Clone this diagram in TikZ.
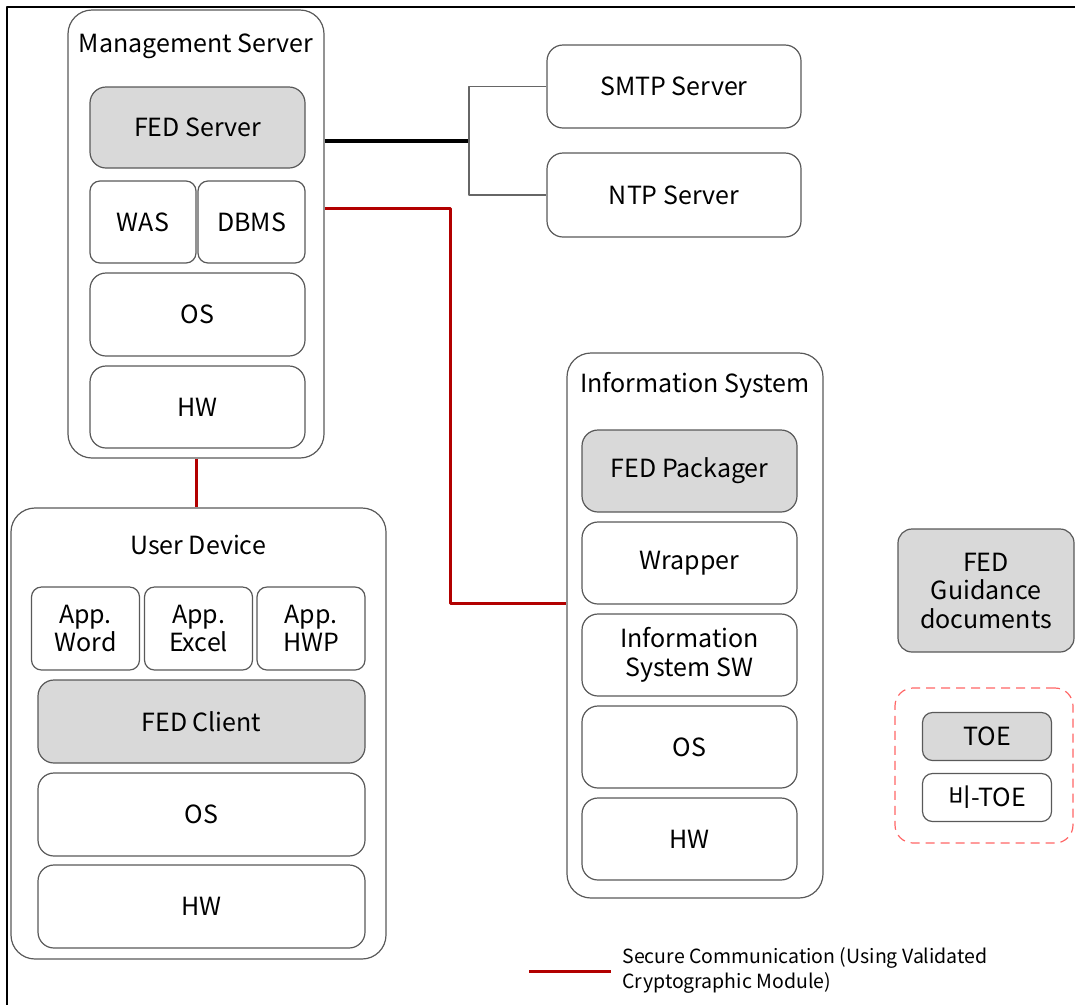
\documentclass[tikz,border=0pt]{standalone}
\usepackage{fontspec}
\setmainfont{Noto Sans CJK KR}
\begin{document}
\begin{tikzpicture}[x=1pt,y=-1pt,line join=round,font=\fontsize{25}{28.5}\selectfont,
  box/.style={draw=black!65,line width=1.2pt,rounded corners=16pt,fill=white,inner sep=0pt,align=center},
  toe/.style={box,fill=black!15},
  outer/.style={draw=black!65,line width=1.2pt,rounded corners=24pt,inner sep=0pt},
  secure/.style={draw=red!70!black,line width=3pt},
  wire/.style={draw=black!60,line width=1.3pt}]
\useasboundingbox (0,0) rectangle (1075,1005);
\draw[line width=1.3pt] (1075,7)--(7,7)--(7,1005);
% management server
\node[outer,minimum width=256pt,minimum height=448pt] (ms) at (196,234) {};
\node (mstitle) at (196,46) {Management Server};
\node[toe,minimum width=215pt,minimum height=81pt] (fedsrv) at (197.5,127.5) {FED Server};
\node[box,rounded corners=10pt,minimum width=106pt,minimum height=82pt] (was) at (143,222) {WAS};
\node[box,rounded corners=10pt,minimum width=107pt,minimum height=82pt] (dbms) at (251.5,222) {DBMS};
\node[box,minimum width=215pt,minimum height=83pt] (msos) at (197.5,314.5) {OS};
\node[box,minimum width=215pt,minimum height=82pt] (mshw) at (197.5,407) {HW};
% external servers
\node[box,minimum width=254pt,minimum height=83pt] (smtp) at (674,86.5) {SMTP Server};
\node[box,minimum width=254pt,minimum height=84pt] (ntp) at (674,195) {NTP Server};
% information system
\node[outer,minimum width=256pt,minimum height=545pt] (is) at (695,625.5) {};
\node (istitle) at (695,385) {Information System};
\node[toe,minimum width=215pt,minimum height=82pt] (pkg) at (689.5,471) {FED Packager};
\foreach \y/\nm/\txt in {563/wrap/Wrapper,655/isw/Information\\System SW,747/isos/OS,839/ishw/HW}
  \node[box,minimum width=215pt,minimum height=82pt] (\nm) at (689.5,\y) {\txt};
% user device
\node[outer,minimum width=375pt,minimum height=451pt] (ud) at (198.5,733.5) {};
\node (udtitle) at (198,545) {User Device};
\foreach \x/\nm/\txt in {85.5/word/Word,198.5/excel/Excel,311/hwp/HWP}
  \node[box,rounded corners=10pt,minimum width=108pt,minimum height=83pt] (\nm) at (\x,628.5) {App.\\\txt};
\node[toe,minimum width=327pt,minimum height=83pt] (fedcl) at (201.5,721.5) {FED Client};
\node[box,minimum width=327pt,minimum height=83pt] (udos) at (201.5,814.5) {OS};
\node[box,minimum width=327pt,minimum height=83pt] (udhw) at (201.5,906.5) {HW};
% guidance and toe legend
\node[toe,rounded corners=14pt,minimum width=176pt,minimum height=123pt] (guide) at (986,590.5) {FED\\Guidance\\documents};
\node[draw=red!60,dash pattern=on 9pt off 6pt,line width=1.2pt,rounded corners=18pt,minimum width=178pt,minimum height=155pt] (leg) at (984,765.5) {};
\node[toe,rounded corners=10pt,minimum width=129pt,minimum height=48pt] (toebox) at (987,736.5) {TOE};
\node[box,rounded corners=10pt,minimum width=129pt,minimum height=48pt] (nontoe) at (987,797.5) {비-TOE};
% connections
\coordinate (brk) at (469,141);
\draw[line width=3.2pt] (ms.east |- brk)--(brk);
\draw[wire] (smtp.west) -| (brk) |- (ntp.west);
\coordinate (redtop) at (450,208);
\coordinate (redbot) at (450,603);
\draw[secure] (ms.east |- redtop)--(redtop)--(redbot)--(is.west |- redbot);
\draw[secure] (ms.south)--(ms.south |- ud.north);
% legend
\coordinate (legA) at (529,971);
\coordinate (legB) at (611,971);
\draw[secure] (legA)--(legB);
\node[anchor=west,align=left,font=\fontsize{19.5}{25}\selectfont] (legtxt) at (619,970) {Secure Communication (Using Validated\\Cryptographic Module)};
\end{tikzpicture}
\end{document}
